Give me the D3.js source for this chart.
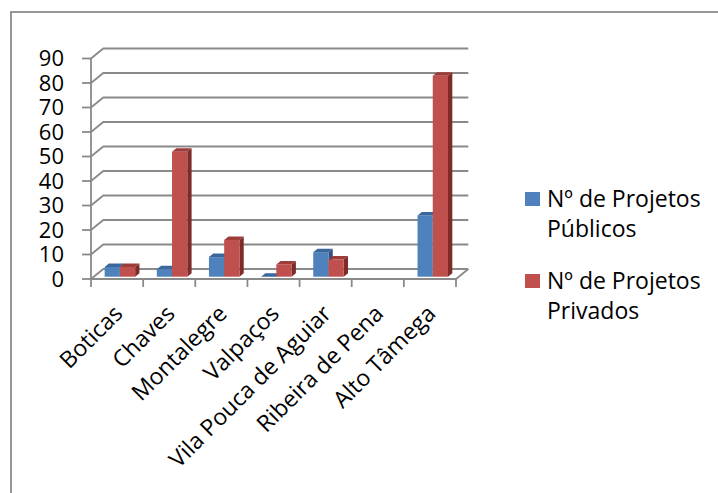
<!DOCTYPE html>
<html lang="pt">
<head>
    <meta charset="UTF-8">
    <title>Projetos por concelho</title>
    <script src="https://d3js.org/d3.v7.min.js"></script>
    <style>
        body { margin: 0; background: #fff; }
        text { font-family: "Open Sans", sans-serif; fill: #000; }
    </style>
</head>
<body>
    <svg id="chart"></svg>

    <script>
        // Data
        const categories = ["Boticas", "Chaves", "Montalegre", "Valpaços", "Vila Pouca de Aguiar", "Ribeira de Pena", "Alto Tâmega"];
        const publicos = [4, 3, 8, 0, 10, null, 25];
        const privados = [4, 51, 15, 5, 7, null, 82];
        const seriesNames = ["Nº de Projetos Públicos", "Nº de Projetos Privados"];
        const legendLines = [["Nº de Projetos", "Públicos"], ["Nº de Projetos", "Privados"]];
        const yTicks = [0, 10, 20, 30, 40, 50, 60, 70, 80, 90];

        const W = 718, H = 493;
        const fontSize = 23;

        // 3D look: depth offset of the back wall
        const depthX = 12.3, depthY = -10;
        // bars sit between these depth fractions
        const barT0 = 0.23, barT1 = 0.58;

        const colors = [
            { front: "#4F81BD", top: "#3C679C", side: "#2F5280" },
            { front: "#C0504D", top: "#9E3C3A", side: "#7E2C2A" }
        ];

        const svg = d3.select("#chart")
            .attr("width", W)
            .attr("height", H);

        svg.append("rect")
            .attr("width", W).attr("height", H)
            .attr("fill", "#fff");

        // chart frame (right and bottom edges run off the picture)
        svg.append("rect")
            .attr("x", 11).attr("y", 12)
            .attr("width", 720).attr("height", 500)
            .attr("fill", "none")
            .attr("stroke", "#8c8c8c")
            .attr("stroke-width", 1.8);

        // scales
        const x = d3.scaleBand()
            .domain(categories)
            .range([91, 456])
            .paddingInner(0)
            .paddingOuter(0);

        const inner = d3.scaleBand()
            .domain([0, 1])
            .range([0, x.bandwidth()])
            .paddingOuter(0.71)
            .paddingInner(0);

        const y = d3.scaleLinear()
            .domain([0, 90])
            .range([279, 58.5]);

        const x0 = x.range()[0], x1 = x.range()[1];
        const gridColor = "#8a8a8a";

        // left wall edge and gridlines on the back wall
        const grid = svg.append("g")
            .attr("fill", "none")
            .attr("stroke", gridColor)
            .attr("stroke-width", 1.8);

        yTicks.forEach(v => {
            const yy = y(v);
            grid.append("path")
                .attr("d", `M${x0},${yy} L${x0 + depthX},${yy + depthY} L${x1 + depthX},${yy + depthY}`);
        });

        grid.append("line")
            .attr("x1", x0).attr("y1", y(0))
            .attr("x2", x0).attr("y2", y(90));

        // floor front edge and right edge
        grid.append("path")
            .attr("d", `M${x0},${y(0)} L${x1},${y(0)} L${x1 + depthX},${y(0) + depthY}`);

        // y ticks and labels
        yTicks.forEach(v => {
            grid.append("line")
                .attr("x1", x0 - 9).attr("x2", x0)
                .attr("y1", y(v)).attr("y2", y(v));
        });

        svg.append("g")
            .selectAll("text")
            .data(yTicks)
            .join("text")
            .attr("x", 64)
            .attr("y", d => y(d))
            .attr("dy", "0.36em")
            .attr("text-anchor", "end")
            .attr("font-size", 22)
            .text(d => d);

        // category ticks
        const tickXs = categories.map(c => x(c)).concat([x1]);
        tickXs.forEach(tx => {
            grid.append("line")
                .attr("x1", tx).attr("x2", tx)
                .attr("y1", y(0)).attr("y2", y(0) + 8);
        });

        // category labels
        svg.append("g")
            .selectAll("text")
            .data(categories)
            .join("text")
            .attr("text-anchor", "end")
            .attr("font-size", fontSize)
            .attr("transform", d => `translate(${x(d) + x.bandwidth() / 2 + 7},315) rotate(-45)`)
            .text(d => d);

        // bars
        const bars = svg.append("g");
        const series = [publicos, privados];

        categories.forEach((c, i) => {
            series.forEach((vals, s) => {
                const v = vals[i];
                if (v === null) return;
                const fx = x(c) + inner(s) + barT0 * depthX;
                const w = inner.bandwidth();
                const base = y(0) + barT0 * depthY;
                const topY = base - (y(0) - y(v));
                const ddx = (barT1 - barT0) * depthX;
                const ddy = (barT1 - barT0) * depthY;
                const col = colors[s];

                // side face
                bars.append("path")
                    .attr("d", `M${fx + w},${base} L${fx + w + ddx},${base + ddy} L${fx + w + ddx},${topY + ddy} L${fx + w},${topY} Z`)
                    .attr("fill", col.side);
                // front face
                bars.append("rect")
                    .attr("x", fx).attr("y", topY)
                    .attr("width", w).attr("height", base - topY)
                    .attr("fill", col.front);
                // top face
                bars.append("path")
                    .attr("d", `M${fx},${topY} L${fx + ddx},${topY + ddy} L${fx + w + ddx},${topY + ddy} L${fx + w},${topY} Z`)
                    .attr("fill", col.top);
            });
        });

        // legend
        const legend = svg.append("g");
        const legendY = [192, 274];
        seriesNames.forEach((name, s) => {
            legend.append("rect")
                .attr("x", 525).attr("y", legendY[s])
                .attr("width", 15).attr("height", 14)
                .attr("fill", colors[s].front);
            legendLines[s].forEach((line, k) => {
                legend.append("text")
                    .attr("x", 547)
                    .attr("y", legendY[s] + 15 + k * 30)
                    .attr("font-size", fontSize)
                    .text(line);
            });
        });
    </script>
</body>
</html>
